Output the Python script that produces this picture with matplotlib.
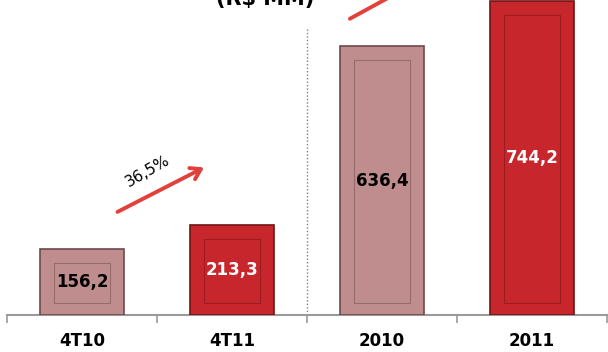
import matplotlib.pyplot as plt
from matplotlib.patches import Rectangle

categories = ['4T10', '4T11', '2010', '2011']
values = [156.2, 213.3, 636.4, 744.2]
value_labels = ['156,2', '213,3', '636,4', '744,2']
growth_labels = ['36,5%', '16,9%']

face_colors = ['#bf8d8d', '#c7272c', '#bf8d8d', '#c7272c']
edge_colors = ['#6e4a4a', '#701515', '#6e4a4a', '#701515']
label_colors = ['black', 'white', 'black', 'white']

fig = plt.figure(figsize=(6.08, 3.52), dpi=100)
ax = fig.add_axes([7 / 608, 37 / 352, 600 / 608, 315 / 352])

x = list(range(len(categories)))
bars = ax.bar(x, values, width=0.56, color=face_colors, edgecolor=edge_colors, linewidth=1.2, zorder=3)

# inner frame to imitate the bevelled look
for bar, ec in zip(bars, edge_colors):
    bx, by = bar.get_x(), bar.get_y()
    bw, bh = bar.get_width(), bar.get_height()
    dx = bw * 0.17
    dy = 13 * 745.5 / 315
    ax.add_patch(Rectangle((bx + dx, by + dy * 0.9), bw - 2 * dx, bh - 2 * dy,
                           fill=False, edgecolor=ec, linewidth=0.8, alpha=0.5, zorder=4))

# value labels
for bar, lab, col in zip(bars, value_labels, label_colors):
    ax.text(bar.get_x() + bar.get_width() / 2, bar.get_height() / 2, lab,
            ha='center', va='center', fontsize=12, fontweight='bold', color=col, zorder=5)

ax.set_xlim(-0.5, 3.5)
ax.set_ylim(0, 745.5)

# separator between quarters and years
ax.plot([1.5, 1.5], [0, 677], color='#808080', linestyle=(0, (1, 1.5)), linewidth=1, zorder=2)

# growth arrows
arrow = dict(arrowstyle='->,head_length=0.7,head_width=0.45', color='#e2403a', lw=2.8)
ax.annotate('', xy=(0.83, 352), xytext=(0.22, 241), arrowprops=arrow, zorder=6)
ax.text(0.44, 340, growth_labels[0], rotation=30, ha='center', va='center', fontsize=11)
ax.annotate('', xy=(2.45, 830), xytext=(1.77, 698), arrowprops=arrow,
            annotation_clip=False, zorder=6)
ax.text(1.99, 790, growth_labels[1], rotation=30, ha='center', va='center', fontsize=11, clip_on=False)

for s in ['top', 'right', 'left']:
    ax.spines[s].set_visible(False)
ax.spines['bottom'].set_color('#9a9a9a')
ax.spines['bottom'].set_linewidth(1.5)
ax.set_yticks([])
ax.set_xticks([-0.5, 0.5, 1.5, 2.5, 3.5])
ax.set_xticklabels([])
ax.tick_params(axis='x', which='major', length=6, width=1.2, color='#9a9a9a')
ax.set_xticks(x, minor=True)
ax.set_xticklabels(categories, minor=True, fontsize=12, fontweight='bold')
ax.tick_params(axis='x', which='minor', length=0, pad=12)

fig.text(265 / 608, 1 - 5 / 352, '(R$ MM)', ha='center', va='baseline', fontsize=15, fontweight='bold')

fig.savefig('out.png', dpi=100)
